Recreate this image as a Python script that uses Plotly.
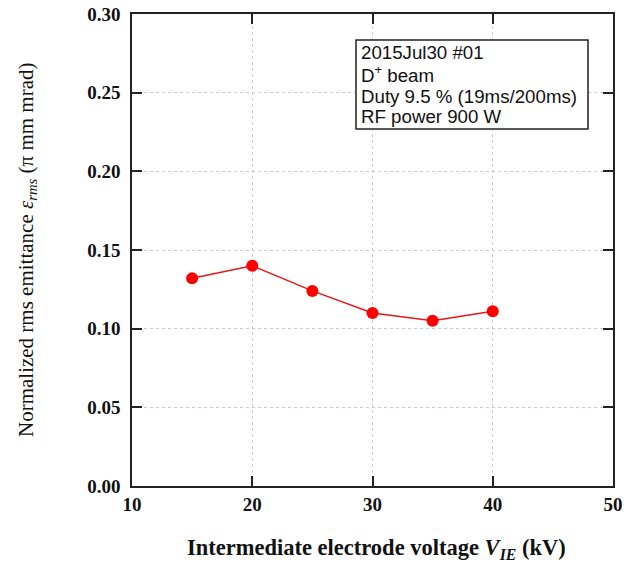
import plotly.graph_objects as go

voltage_kv = [15, 20, 25, 30, 35, 40]
emittance = [0.132, 0.140, 0.124, 0.110, 0.105, 0.111]

x_ticks = [10, 20, 30, 40, 50]
y_ticks = [0.00, 0.05, 0.10, 0.15, 0.20, 0.25, 0.30]

info_lines = ["2015Jul30 #01", "D<sup>+</sup> beam", "Duty 9.5 % (19ms/200ms)", "RF power 900 W"]

W, H = 634, 563
L, R, T, B = 132, 21, 14, 77
PW, PH = W - L - R, H - T - B


def px(xp):
    return (xp - L) / PW


def py(yp):
    return (H - B - yp) / PH


fig = go.Figure()
fig.add_trace(go.Scatter(
    x=voltage_kv, y=emittance, mode="lines+markers",
    line=dict(color="#e8161b", width=1.5),
    marker=dict(color="#ff0000", size=12, line=dict(width=0)),
    showlegend=False,
))

axis_common = dict(
    showline=True, linecolor="#222222", linewidth=1.5, mirror="ticks",
    ticks="inside", ticklen=10, tickwidth=1.5, tickcolor="#222222",
    showgrid=True, gridcolor="#c6cade", griddash="dot", gridwidth=1,
    zeroline=False, automargin=False, ticklabeloverflow="allow",
    tickfont=dict(family="Liberation Serif", size=19, color="#111111"),
)

fig.update_xaxes(range=[10, 50], tickvals=x_ticks, ticktext=[f"<b>{v}</b>" for v in x_ticks], **axis_common)
fig.update_yaxes(range=[0, 0.30], tickvals=y_ticks, ticktext=[f"<b>{v:.2f}</b>" for v in y_ticks],
                 ticklabelstandoff=6, **axis_common)

# info box
fig.add_shape(type="rect", xref="paper", yref="paper",
              x0=px(356), x1=px(588), y0=py(129), y1=py(40),
              line=dict(color="#222222", width=1.5), fillcolor="white", layer="above")
for line_text, yc in zip(info_lines, [52.5, 74, 96.5, 117]):
    fig.add_annotation(
        xref="paper", yref="paper", x=px(359), y=py(yc), xanchor="left", yanchor="middle",
        text=line_text, align="left", showarrow=False,
        font=dict(family="Liberation Sans", size=18.7, color="#111111"),
    )

fig.add_annotation(
    xref="paper", yref="paper", x=px(376), y=py(549), xanchor="center", yanchor="middle",
    text="<b>Intermediate electrode voltage <i>V</i><sub><i>IE</i></sub> (kV)</b>",
    showarrow=False, font=dict(family="Liberation Serif", size=22.5, color="#111111"),
)
fig.add_annotation(
    xref="paper", yref="paper", x=px(27), y=py(250), xanchor="center", yanchor="middle",
    text="Normalized rms emittance <i>ε</i><sub><i>rms</i></sub> (π mm mrad)", textangle=-90,
    showarrow=False, font=dict(family="Liberation Serif", size=21, color="#111111"),
)

fig.update_layout(
    width=W, height=H,
    margin=dict(l=L, r=R, t=T, b=B, autoexpand=False),
    paper_bgcolor="white", plot_bgcolor="white",
)

fig.write_html("out.html", config={"displayModeBar": False},
               post_script="document.body.style.margin='0';")
